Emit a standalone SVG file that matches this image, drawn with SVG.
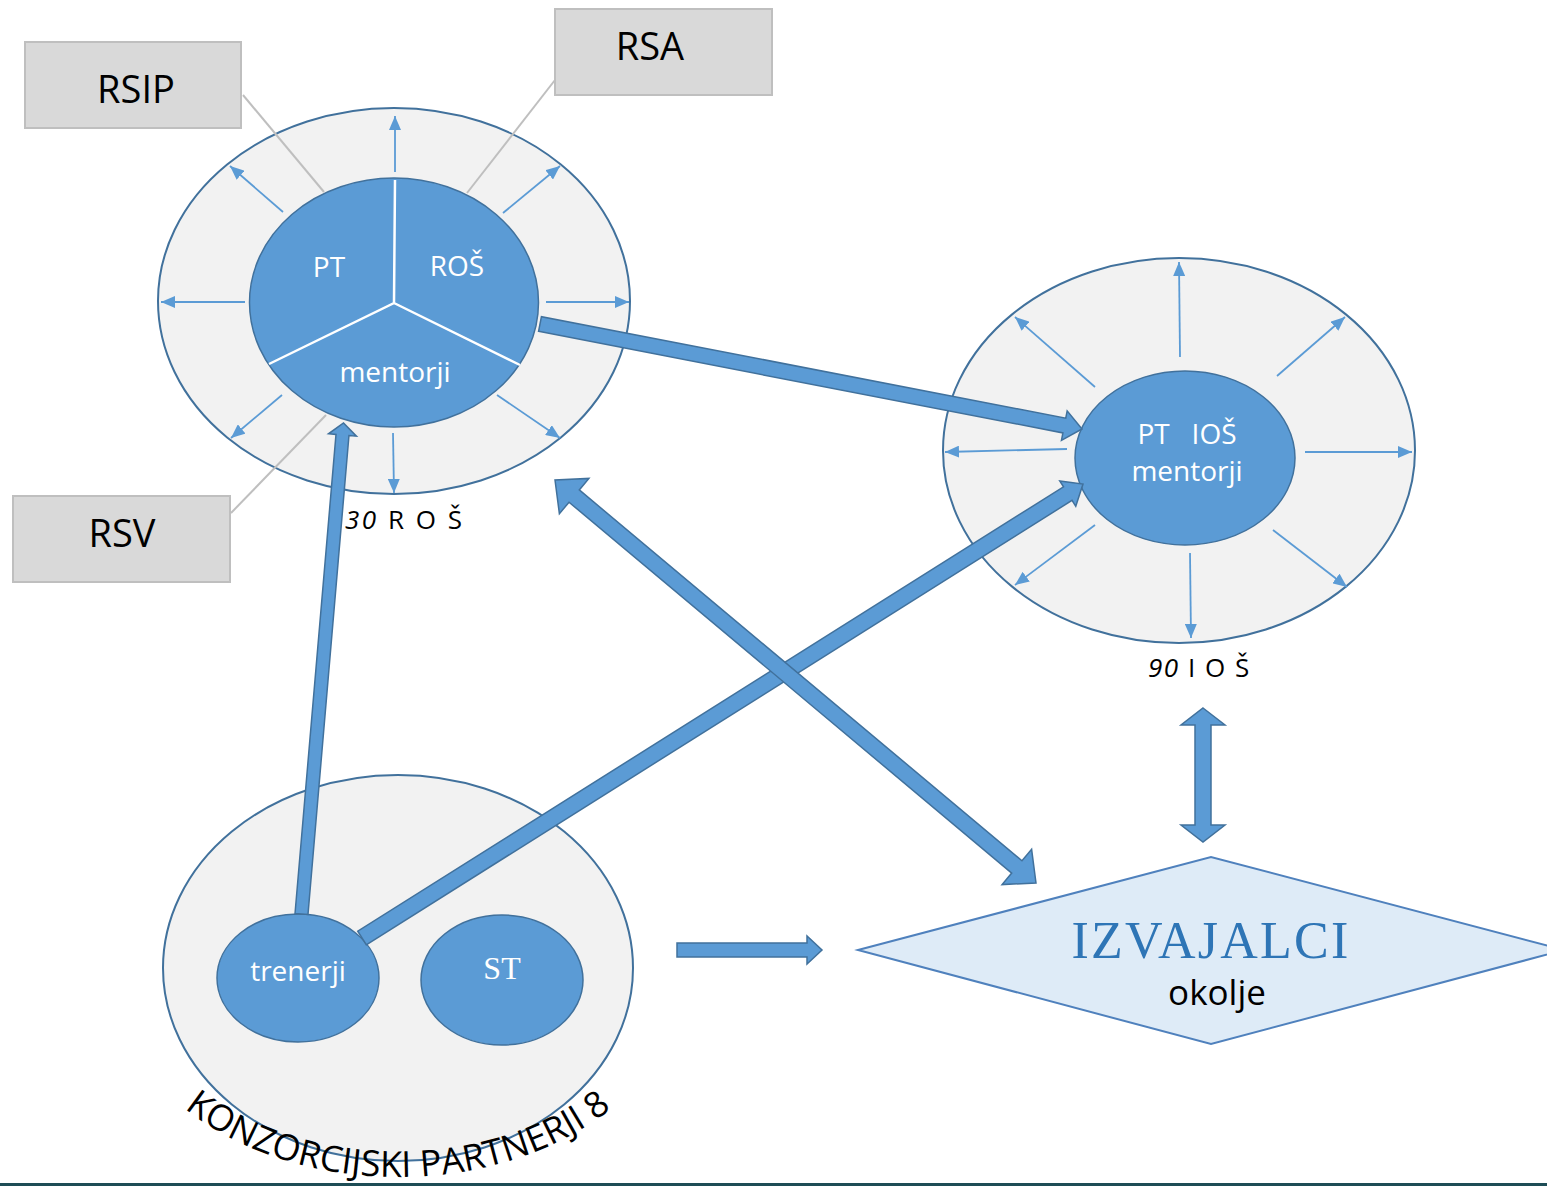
<svg xmlns="http://www.w3.org/2000/svg" width="1547" height="1186" viewBox="0 0 1547 1186">
<style>
.outer{fill:#f2f2f2;stroke:#41719c;stroke-width:2}
.inner{fill:#5b9bd5;stroke:#41719c;stroke-width:1.5}
.ray{stroke:#5b9bd5;stroke-width:1.8;fill:none;marker-end:url(#ah)}
.div{stroke:#ffffff;stroke-width:2.5;fill:none}
.lead{stroke:#bfbfbf;stroke-width:2;fill:none}
.box{fill:#d9d9d9;stroke:#bfbfbf;stroke-width:2}
.boxt{font-family:"Open Sans","Liberation Sans",sans-serif;font-size:38px;fill:#000;text-anchor:middle}
.wt{font-family:"Open Sans","Liberation Sans",sans-serif;font-size:28px;fill:#ffffff;text-anchor:middle}
.lbl{font-family:"Open Sans","Liberation Sans",sans-serif;font-size:26px;fill:#000}
.blk{fill:#5b9bd5;stroke:#41719c;stroke-width:1.5;stroke-linejoin:miter}
</style>
<defs>
<marker id="ah" markerUnits="userSpaceOnUse" markerWidth="14" markerHeight="12" refX="14" refY="6" orient="auto">
<path d="M0,0 L14,6 L0,12 z" fill="#5b9bd5"/>
</marker>
<path id="arcK" d="M 108 965 A 290 212 0 0 0 688 965"/>
</defs>
<rect x="0" y="0" width="1547" height="1186" fill="#ffffff"/>

<g id="node-ros">
<ellipse class="outer" cx="394" cy="301" rx="236" ry="193"/>
<line class="ray" x1="395" y1="172" x2="395" y2="116"/>
<line class="ray" x1="283" y1="212" x2="230" y2="166"/>
<line class="ray" x1="503" y1="213" x2="560" y2="166"/>
<line class="ray" x1="245" y1="302" x2="161" y2="302"/>
<line class="ray" x1="546" y1="302" x2="629" y2="302"/>
<line class="ray" x1="282" y1="395" x2="231" y2="438"/>
<line class="ray" x1="497" y1="395" x2="560" y2="438"/>
<line class="ray" x1="393" y1="433" x2="394" y2="493"/>
<ellipse class="inner" cx="394" cy="302.5" rx="144.5" ry="124.5"/>
<path class="div" d="M395 180 L394 303 L269 364 M394 303 L520 365"/>
<text class="wt" x="329" y="277">PT</text>
<text class="wt" x="457" y="276">ROŠ</text>
<text class="wt" x="395" y="382" font-size="29">mentorji</text>
<text class="lbl" x="345" y="529" letter-spacing="2.5"><tspan font-style="italic">30</tspan> R O Š</text>
</g>

<g id="node-ios">
<ellipse class="outer" cx="1179" cy="450.5" rx="236" ry="192.5"/>
<line class="ray" x1="1180" y1="357" x2="1179" y2="262"/>
<line class="ray" x1="1095" y1="387" x2="1015" y2="317"/>
<line class="ray" x1="1277" y1="376" x2="1345" y2="317"/>
<line class="ray" x1="1067" y1="449" x2="945" y2="452"/>
<line class="ray" x1="1305" y1="452" x2="1412" y2="452"/>
<line class="ray" x1="1095" y1="525" x2="1015" y2="585"/>
<line class="ray" x1="1273" y1="530" x2="1347" y2="587"/>
<line class="ray" x1="1190" y1="553" x2="1191" y2="638"/>
<ellipse class="inner" cx="1185" cy="458" rx="110" ry="87"/>
<text class="wt" x="1187" y="444" font-size="29" xml:space="preserve">PT   IOŠ</text>
<text class="wt" x="1187" y="481" font-size="29">mentorji</text>
<text class="lbl" x="1148" y="677" letter-spacing="1.5"><tspan font-style="italic">90</tspan> I O Š</text>
</g>

<g id="node-rsip">
<line class="lead" x1="243" y1="95" x2="324" y2="192"/>
<rect class="box" x="25" y="42" width="216" height="86"/>
<text class="boxt" x="136" y="103">RSIP</text>
</g>
<g id="node-rsa">
<line class="lead" x1="555" y1="80" x2="467" y2="193"/>
<rect class="box" x="555" y="9" width="217" height="86"/>
<text class="boxt" x="650" y="60">RSA</text>
</g>
<g id="node-rsv">
<line class="lead" x1="231" y1="513" x2="326" y2="415"/>
<rect class="box" x="13" y="496" width="217" height="86"/>
<text class="boxt" x="122" y="547">RSV</text>
</g>

<g id="node-konzorcij">
<ellipse class="outer" cx="398" cy="968" rx="235" ry="193"/>
<ellipse class="inner" cx="298" cy="978" rx="81" ry="64"/>
<ellipse class="inner" cx="502" cy="980" rx="81" ry="65"/>
<text class="wt" x="298" y="981" font-size="30">trenerji</text>
<text x="502" y="979" font-family="'Liberation Serif',serif" font-size="32" fill="#ffffff" text-anchor="middle">ST</text>
<text font-family="'Open Sans','Liberation Sans',sans-serif" font-size="36" fill="#000"><textPath href="#arcK" startOffset="50%" text-anchor="middle">KONZORCIJSKI PARTNERJI 8</textPath></text>
</g>

<g id="node-izvajalci">
<polygon points="858,950 1211,857 1564,950 1211,1044" fill="#deebf7" stroke="#4f81bd" stroke-width="2"/>
<text x="1211" y="958" font-family="'Liberation Serif',serif" font-size="52" fill="#2e75b6" text-anchor="middle" letter-spacing="2.2">IZVAJALCI</text>
<text x="1217" y="1005" font-family="'Open Sans','Liberation Sans',sans-serif" font-size="35" fill="#000" text-anchor="middle">okolje</text>
</g>

<g id="connectors">
<polygon class="blk" points="538.57,331.36 1062.90,432.94 1061.48,440.31 1082,429 1067.18,410.85 1065.76,418.22 541.43,316.64"/>
<polygon class="blk" points="366.26,944.77 1072.03,500.36 1075.76,506.28 1083,484 1059.78,480.90 1063.51,486.82 357.74,931.23"/>
<polygon class="blk" points="307.98,914.55 348.96,435.51 356.43,436.15 343.5,423 328.53,433.77 336.00,434.41 295.02,913.45"/>
<polygon class="blk" points="555,480 559.39,513.69 569.02,502.19 1011.70,873.07 1002.07,884.57 1036,883 1031.61,849.31 1021.98,860.81 579.30,489.93 588.93,478.43"/>
<polygon class="blk" points="1203,708 1225,725 1211,725 1211,825 1225,825 1203,842 1181,825 1195,825 1195,725 1181,725"/>
<polygon class="blk" points="677,943 807,943 807,936 822,950 807,964 807,957 677,957"/>
</g>

<rect x="0" y="1183" width="1547" height="3" fill="#1e4d56"/>
</svg>
